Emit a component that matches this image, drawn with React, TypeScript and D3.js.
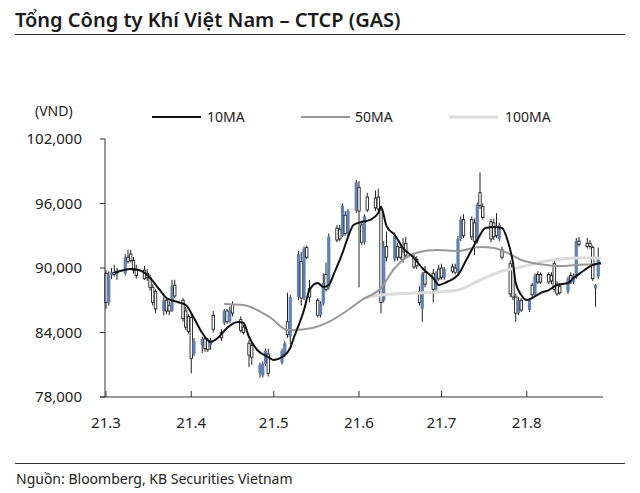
import React from "react";
import * as d3 from "d3";

// ---- Data (prices in thousand VND) ----
const dates = [
  "2021-03-01","2021-03-02","2021-03-03","2021-03-04","2021-03-05",
  "2021-03-08","2021-03-09","2021-03-10","2021-03-11","2021-03-12",
  "2021-03-15","2021-03-16","2021-03-17","2021-03-18","2021-03-19",
  "2021-03-22","2021-03-23","2021-03-24","2021-03-25","2021-03-26",
  "2021-03-29","2021-03-30","2021-03-31","2021-04-01","2021-04-02",
  "2021-04-05","2021-04-06","2021-04-07","2021-04-08","2021-04-09",
  "2021-04-12","2021-04-13","2021-04-14","2021-04-15","2021-04-16",
  "2021-04-19","2021-04-20","2021-04-22","2021-04-23",
  "2021-04-26","2021-04-27","2021-04-28","2021-04-29",
  "2021-05-04","2021-05-05","2021-05-06","2021-05-07",
  "2021-05-10","2021-05-11","2021-05-12","2021-05-13","2021-05-14",
  "2021-05-17","2021-05-18","2021-05-19","2021-05-20","2021-05-21",
  "2021-05-24","2021-05-25","2021-05-26","2021-05-27","2021-05-28",
  "2021-05-31","2021-06-01","2021-06-02","2021-06-03","2021-06-04",
  "2021-06-07","2021-06-08","2021-06-09","2021-06-10","2021-06-11",
  "2021-06-14","2021-06-15","2021-06-16","2021-06-17","2021-06-18",
  "2021-06-21","2021-06-22","2021-06-23","2021-06-24","2021-06-25",
  "2021-06-28","2021-06-29","2021-06-30","2021-07-01","2021-07-02",
  "2021-07-05","2021-07-06","2021-07-07","2021-07-08","2021-07-09",
  "2021-07-12","2021-07-13","2021-07-14","2021-07-15","2021-07-16",
  "2021-07-19","2021-07-20","2021-07-21","2021-07-22","2021-07-23",
  "2021-07-26","2021-07-27","2021-07-28","2021-07-29","2021-07-30",
  "2021-08-02","2021-08-03","2021-08-04","2021-08-05","2021-08-06",
  "2021-08-09","2021-08-10","2021-08-11","2021-08-12","2021-08-13",
  "2021-08-16","2021-08-17","2021-08-18","2021-08-19","2021-08-20",
  "2021-08-23","2021-08-24","2021-08-25","2021-08-26","2021-08-27",
];
const opens = [
  89.5,86.8,89.3,89.6,89.4, 89.5,91.0,91.3,90.7,89.8, 89.8,89.5,89.1,88.2,87.8,
  86.0,87.0,86.5,86.0,88.4, 87.0,86.0,85.5,85.4,82.0, 82.8,83.4,83.3,82.8,85.6,
  84.0,84.9,86.0,85.0,86.6, 85.2,84.5,83.0,82.8, 80.2,80.0,81.1,82.0,
  81.2,81.9,85.0,83.6, 87.3,90.6,87.2,91.9,88.1, 87.0,85.6,86.7,89.4,88.2,
  93.7,93.6,93.0,94.9,93.2, 95.3,97.5,94.0,92.4,96.6, 96.5,96.6,95.4,87.0,92.0,
  90.8,92.0,91.9,91.5,92.3, 91.0,90.8,87.8,86.2,89.6, 89.5,88.0,89.9,90.0,89.1,
  90.1,90.0,89.6,92.7,94.5, 94.5,94.2,92.5,97.0,95.7, 94.3,94.2,93.8,92.7,91.7,
  90.4,89.9,87.3,85.8,87.0, 86.1,88.4,87.5,89.4,89.4, 89.4,89.3,90.4,88.5,88.3,
  87.8,89.3,88.7,89.2,92.5, 92.3,92.3,91.9,88.1,89.2,
];
const highs = [
  89.8,89.7,90.0,90.3,90.0, 91.3,91.7,91.7,91.0,90.3, 90.2,89.9,89.4,88.5,88.0,
  87.3,87.2,86.9,88.9,88.9, 87.2,86.4,85.7,85.8,83.5, 83.6,83.6,83.5,83.5,86.0,
  84.3,86.2,86.2,86.4,86.9, 85.5,84.7,83.3,83.0, 81.2,81.3,82.5,82.5,
  82.5,83.2,87.7,87.5, 91.6,91.5,92.0,92.1,88.9, 87.2,86.9,89.5,90.5,93.2,
  94.0,94.0,96.0,95.3,95.5, 98.2,98.1,94.4,95.0,97.0, 97.2,97.4,95.8,92.5,93.4,
  93.3,92.3,92.3,92.8,92.9, 91.3,91.1,88.3,89.6,90.2, 89.9,89.7,90.3,90.4,90.1,
  90.4,90.4,93.0,94.8,95.0, 94.8,94.6,96.1,98.9,96.0, 94.6,94.6,95.1,94.2,92.0,
  90.7,90.2,87.6,87.3,87.2, 87.2,88.6,89.5,89.7,89.6, 89.6,89.6,90.8,88.8,88.6,
  89.2,89.6,89.5,92.8,92.9, 92.8,92.6,92.1,88.5,91.9,
];
const lows = [
  86.2,86.5,89.0,89.2,88.9, 89.3,90.4,90.5,89.5,89.0, 88.9,88.8,87.9,86.5,85.8,
  85.6,85.7,85.6,85.9,87.2, 85.0,84.2,83.9,80.2,81.8, 82.1,82.2,82.2,82.4,84.0,
  83.2,84.7,84.8,84.9,85.5, 84.0,83.8,80.8,81.0, 79.8,79.8,80.9,79.9,
  81.0,81.7,83.5,82.9, 87.0,86.5,87.0,90.8,86.8, 85.4,85.4,86.5,87.8,88.0,
  92.4,92.5,92.9,93.0,93.0, 95.1,88.2,92.1,92.2,95.2, 95.3,95.3,85.8,86.8,90.6,
  90.6,90.7,90.8,90.5,91.0, 89.9,89.9,86.5,85.0,88.2, 86.8,87.8,88.8,88.9,88.9,
  89.5,89.4,89.4,92.5,92.8, 92.6,91.2,92.3,95.5,94.5, 92.4,92.6,92.8,92.5,90.8,
  87.3,87.0,85.0,85.6,85.9, 85.9,87.3,87.3,88.5,88.5, 88.5,88.5,87.8,87.4,87.5,
  87.6,88.5,88.5,89.0,92.0, 91.8,91.8,88.8,86.4,89.0,
];
const closes = [
  86.8,89.3,89.6,89.4,89.8, 91.0,90.6,90.7,89.8,89.3, 89.0,89.1,88.2,86.8,86.2,
  87.0,86.0,86.0,88.3,87.4, 85.3,84.5,84.1,81.6,83.2, 83.4,82.5,82.4,83.3,84.3,
  83.5,86.0,85.0,86.1,85.8, 84.2,84.0,81.9,81.7, 81.0,81.1,82.3,80.2,
  82.3,83.0,83.8,87.3, 91.3,87.2,91.8,91.0,87.3, 85.6,86.7,88.6,88.0,92.9,
  92.6,92.7,95.8,93.2,95.3, 98.0,95.3,92.4,94.8,95.4, 95.6,95.5,86.8,92.0,91.0,
  93.0,91.0,91.0,90.8,91.2, 90.1,90.2,86.8,89.4,88.5, 88.0,89.3,89.0,89.1,89.9,
  89.7,89.6,92.7,94.5,93.0, 92.9,92.5,95.9,95.8,94.7, 92.7,92.9,93.0,94.0,91.0,
  87.6,87.3,85.8,87.0,86.1, 87.0,87.5,89.3,88.7,88.7, 88.7,88.8,88.0,87.6,87.7,
  89.0,88.7,89.3,92.5,92.2, 92.0,92.0,89.0,88.4,90.8,
];

// Moving averages
const ma10Dates = [
  "2021-03-04","2021-03-10","2021-03-13","2021-03-16","2021-03-20","2021-03-23","2021-03-27","2021-03-30",
  "2021-04-02","2021-04-05","2021-04-08","2021-04-11","2021-04-14","2021-04-18","2021-04-20","2021-04-22",
  "2021-04-25","2021-04-29","2021-05-01","2021-05-04","2021-05-07","2021-05-08","2021-05-12","2021-05-14",
  "2021-05-17","2021-05-19","2021-05-21","2021-05-23","2021-05-26","2021-05-28","2021-05-30","2021-06-02",
  "2021-06-05","2021-06-08","2021-06-09","2021-06-11","2021-06-14","2021-06-17","2021-06-21","2021-06-24",
  "2021-06-28","2021-06-30","2021-07-03","2021-07-07","2021-07-10","2021-07-14","2021-07-17","2021-07-20",
  "2021-07-23","2021-07-25","2021-07-27","2021-07-28","2021-07-30","2021-08-01","2021-08-03","2021-08-06",
  "2021-08-09","2021-08-12","2021-08-16","2021-08-18","2021-08-21","2021-08-25","2021-08-28",
];
const ma10Values = [
  89.53,89.91,89.81,89.35,88.14,87.21,86.84,86.56,
  85.35,83.95,83.12,83.58,84.42,84.98,84.88,83.58,
  82.37,81.72,81.44,81.72,82.56,83.30,86.09,87.95,
  88.60,88.23,88.42,89.54,91.40,92.88,94.00,94.28,
  94.47,95.12,95.67,93.91,93.07,91.86,90.93,90.00,
  89.07,88.42,88.70,89.35,90.74,92.60,93.72,93.81,
  93.72,92.60,90.47,88.60,87.49,87.02,87.21,87.67,
  87.95,88.42,88.60,89.07,89.63,90.28,90.47,
];
const ma50Dates = [
  "2021-04-13","2021-04-20","2021-04-25","2021-04-30","2021-05-06","2021-05-08","2021-05-15","2021-05-21",
  "2021-05-28","2021-06-02","2021-06-09","2021-06-14","2021-06-18","2021-06-23","2021-06-29","2021-07-07",
  "2021-07-15","2021-07-20","2021-07-25","2021-07-30","2021-08-03","2021-08-08","2021-08-13","2021-08-19",
  "2021-08-28",
];
const ma50Values = [
  86.65,86.56,86.09,85.35,84.23,84.23,84.42,84.98,
  86.09,87.02,88.14,90.00,90.93,91.49,91.67,91.58,
  91.95,91.86,91.40,90.74,90.47,90.28,90.19,90.28,
  90.37,
];
const ma100Dates = [
  "2021-06-02","2021-06-09","2021-06-21","2021-06-29","2021-07-07","2021-07-15","2021-07-22","2021-07-30",
  "2021-08-06","2021-08-13","2021-08-20","2021-08-28",
];
const ma100Values = [
  87.12,87.49,87.67,87.77,87.95,88.88,89.63,90.09,
  90.56,90.84,90.93,90.93,
];

const yTicks = [78, 84, 90, 96, 102];
const xTickDates = ["2021-03-01","2021-04-01","2021-05-01","2021-06-01","2021-07-01","2021-08-01"];
const xTickLabels = ["21.3","21.4","21.5","21.6","21.7","21.8"];

const title = "Tổng Công ty Khí Việt Nam – CTCP (GAS)";
const source = "Nguồn: Bloomberg, KB Securities Vietnam";
const unitLabel = "(VND)";
const legendNames = ["10MA", "50MA", "100MA"];

const FONT = "'Noto Sans', sans-serif";
const BLUE = "#5f81b4";

export default function App() {
  const parse = d3.timeParse("%Y-%m-%d");
  const x = d3
    .scaleTime()
    .domain([parse("2021-03-01") as Date, parse("2021-08-29") as Date])
    .range([106, 603.75]);
  const y = d3.scaleLinear().domain([78, 102]).range([397, 139]);

  const candles = dates.map((d, i) => ({
    date: parse(d) as Date,
    o: opens[i],
    h: highs[i],
    l: lows[i],
    c: closes[i],
  }));

  const mkLine = (ds: string[], vs: number[]) =>
    d3
      .line<number>()
      .x((_, i) => x(parse(ds[i]) as Date))
      .y((v) => y(v))
      .curve(d3.curveMonotoneX)(vs) || "";

  const bw = 2.4;
  const legend = [
    { name: legendNames[0], color: "#111", w: 2, x1: 152, x2: 201, tx: 207 },
    { name: legendNames[1], color: "#999", w: 2, x1: 301, x2: 350, tx: 355 },
    { name: legendNames[2], color: "#dcdcdc", w: 3, x1: 449, x2: 498, tx: 505 },
  ];

  return (
    <svg
      width={640}
      height={493}
      style={{ position: "absolute", left: 0, top: 0, background: "#fff" }}
      fontFamily={FONT}
    >
      <text x={15} y={27} fontSize={20} fontWeight={600} fill="#1a1a1a">
        {title}
      </text>
      <line x1={15} x2={625} y1={34.5} y2={34.5} stroke="#333" strokeWidth={1} />

      <text x={35} y={116} fontSize={14} fill="#222">{unitLabel}</text>

      {legend.map((l) => (
        <g key={l.name}>
          <line x1={l.x1} x2={l.x2} y1={117} y2={117} stroke={l.color} strokeWidth={l.w} />
          <text x={l.tx} y={122} fontSize={14} fill="#222">{l.name}</text>
        </g>
      ))}

      {/* candles */}
      {candles.map((c, i) => {
        const cx = x(c.date);
        const up = c.c >= c.o;
        const top = y(Math.max(c.o, c.c));
        const bot = y(Math.min(c.o, c.c));
        return (
          <g key={i}>
            <line x1={cx} x2={cx} y1={y(c.h)} y2={y(c.l)} stroke="#222" strokeWidth={1} />
            {up ? (
              <rect x={cx - bw / 2 - 0.4} y={top} width={bw + 0.8} height={Math.max(1, bot - top)} fill={BLUE} />
            ) : (
              <rect
                x={cx - bw / 2}
                y={top}
                width={bw}
                height={Math.max(1, bot - top)}
                fill="#fff"
                stroke="#222"
                strokeWidth={0.9}
              />
            )}
          </g>
        );
      })}

      <path d={mkLine(ma100Dates, ma100Values)} fill="none" stroke="#dcdcdc" strokeWidth={3} />
      <path d={mkLine(ma50Dates, ma50Values)} fill="none" stroke="#999" strokeWidth={2} />
      <path d={mkLine(ma10Dates, ma10Values)} fill="none" stroke="#111" strokeWidth={2} />

      {/* axes */}
      <line x1={105} x2={105} y1={139} y2={397} stroke="#333" strokeWidth={1} />
      <line x1={100} x2={603} y1={397} y2={397} stroke="#333" strokeWidth={1} />
      {yTicks.map((t) => (
        <g key={t}>
          <line x1={100} x2={105} y1={y(t)} y2={y(t)} stroke="#333" strokeWidth={1} />
          <text x={82} y={y(t)} dy="0.35em" textAnchor="end" fontSize={15} fill="#222">
            {d3.format(",")(t * 1000)}
          </text>
        </g>
      ))}
      {xTickDates.map((d, i) => {
        const tx = x(parse(d) as Date);
        return (
          <g key={d}>
            <line x1={tx} x2={tx} y1={391} y2={397} stroke="#333" strokeWidth={1} />
            <text x={tx} y={428} textAnchor="middle" fontSize={15} fill="#222">
              {xTickLabels[i]}
            </text>
          </g>
        );
      })}

      <line x1={15} x2={625} y1={463.5} y2={463.5} stroke="#333" strokeWidth={1} />
      <text x={16} y={484} fontSize={14} fill="#222">{source}</text>
    </svg>
  );
}
